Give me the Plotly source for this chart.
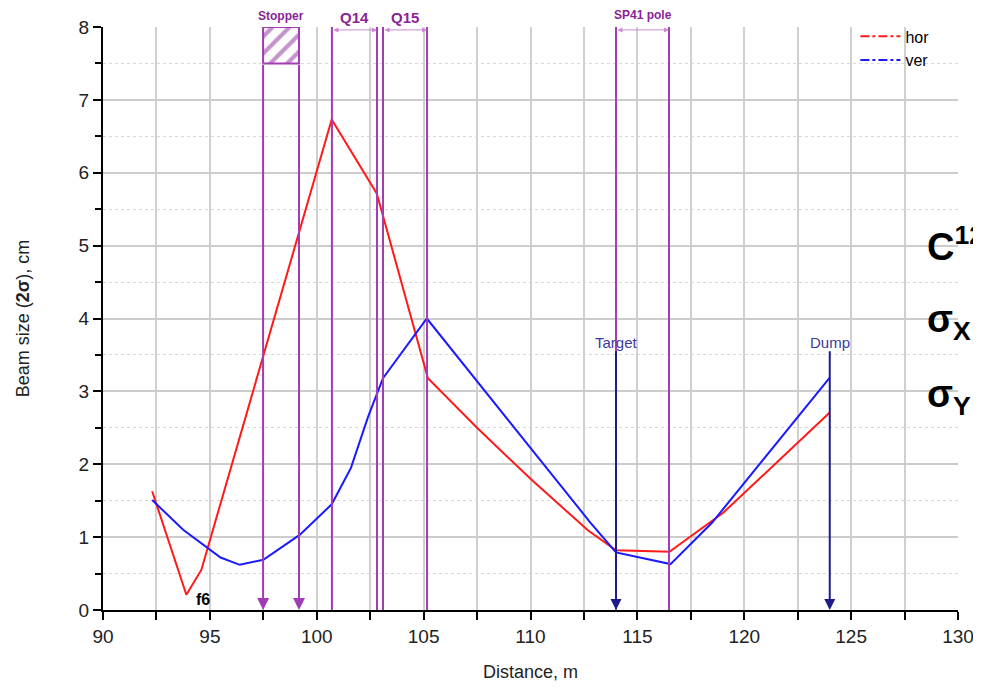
import plotly.graph_objects as go

# ---- data ----
hor_x = [92.3, 93.9, 94.6, 100.7, 102.8, 102.9, 105.2, 107.5, 110.0, 112.7, 114.0, 116.5, 119.0, 124.0]
hor_y = [1.63, 0.21, 0.55, 6.73, 5.72, 5.62, 3.18, 2.50, 1.80, 1.09, 0.82, 0.80, 1.33, 2.71]
ver_x = [92.3, 93.75, 95.5, 96.4, 97.5, 99.2, 100.7, 101.6, 102.4, 103.1, 105.15, 111.4, 112.8, 114.0, 116.55, 118.5, 124.0]
ver_y = [1.51, 1.10, 0.72, 0.62, 0.69, 1.03, 1.45, 1.95, 2.65, 3.18, 4.00, 1.71, 1.20, 0.79, 0.63, 1.20, 3.19]

stopper = [97.49, 99.17]
stopper_box = [7.5, 8.0]
magnets = {"Q14": [100.71, 102.82], "Q15": [103.1, 105.16], "SP41 pole": [114.0, 116.48]}
markers = {"Target": [114.0, 3.57], "Dump": [124.0, 3.57]}
x_ticks = [90, 95, 100, 105, 110, 115, 120, 125, 130]
y_ticks = [0, 1, 2, 3, 4, 5, 6, 7, 8]

PURPLE = "#a23cb4"
PURPLE_LT = "#c98ad2"
PURPLE_TXT = "#8a1f99"
NAVY = "#1c1c8a"
NAVY_TXT = "#3b3b9c"
FONT = "Liberation Sans, Arial, sans-serif"

fig = go.Figure()

# stopper hatched box
fig.add_trace(go.Scatter(
    x=[stopper[0], stopper[1], stopper[1], stopper[0], stopper[0]],
    y=[stopper_box[0], stopper_box[0], stopper_box[1], stopper_box[1], stopper_box[0]],
    mode="lines", fill="toself", fillcolor="rgba(0,0,0,0)",
    fillpattern=dict(shape="/", fgcolor="#8a2a9c", bgcolor="white", size=12, solidity=0.35),
    line=dict(color=PURPLE, width=2), showlegend=False, hoverinfo="skip"))

# beam curves
fig.add_trace(go.Scatter(x=hor_x, y=hor_y, mode="lines", line=dict(color="#ff1a1a", width=2),
                         showlegend=False))
fig.add_trace(go.Scatter(x=ver_x, y=ver_y, mode="lines", line=dict(color="#1a1aff", width=2),
                         showlegend=False))
# legend entries
fig.add_trace(go.Scatter(x=[None], y=[None], mode="lines", name="hor",
                         line=dict(color="#ff1a1a", width=2, dash="dashdot")))
fig.add_trace(go.Scatter(x=[None], y=[None], mode="lines", name="ver",
                         line=dict(color="#1a1aff", width=2, dash="dashdot")))

shapes = []
annotations = []

# stopper lines with arrows
for sx in stopper:
    annotations.append(dict(x=sx, y=0, ax=sx, ay=stopper_box[0], xref="x", yref="y",
                            axref="x", ayref="y", text="", showarrow=True,
                            arrowhead=2, arrowsize=1.2, arrowwidth=2, arrowcolor=PURPLE))
annotations.append(dict(x=sum(stopper) / 2, y=1.0, xref="x", yref="paper", yanchor="middle",
                        yshift=11, text="<b>Stopper</b>", showarrow=False,
                        font=dict(family=FONT, size=12, color=PURPLE_TXT)))

# magnets
for name, (a, b) in magnets.items():
    for xv in (a, b):
        shapes.append(dict(type="line", xref="x", yref="y", x0=xv, x1=xv, y0=0, y1=8,
                           line=dict(color=PURPLE, width=2)))
    annotations.append(dict(x=b, y=7.96, ax=a, ay=7.96, xref="x", yref="y", axref="x", ayref="y",
                            text="", showarrow=True, arrowhead=2, arrowside="end+start",
                            arrowsize=1, arrowwidth=1, arrowcolor=PURPLE_LT))
    annotations.append(dict(x=(a + b) / 2, y=1.0, xref="x", yref="paper", yanchor="middle",
                            yshift=10 if name != "SP41 pole" else 12,
                            text="<b>%s</b>" % name, showarrow=False,
                            font=dict(family=FONT, size=15 if name != "SP41 pole" else 12,
                                      color=PURPLE_TXT)))

# target / dump arrows
for name, (mx, my) in markers.items():
    annotations.append(dict(x=mx, y=0, ax=mx, ay=my, xref="x", yref="y", axref="x", ayref="y",
                            text="", showarrow=True, arrowhead=2, arrowsize=1.1,
                            arrowwidth=2, arrowcolor=NAVY))
    annotations.append(dict(x=mx, y=my, xref="x", yref="y", yanchor="bottom", yshift=-3,
                            text=name, showarrow=False,
                            font=dict(family=FONT, size=15, color=NAVY_TXT)))

# f6 label
annotations.append(dict(x=94.25, y=0.0, xref="x", yref="y", xanchor="left", yanchor="bottom",
                        text="<b>f6</b>", showarrow=False,
                        font=dict(family=FONT, size=16, color="black")))

# right-side text (clipped by page edge, as in the source slide)
for txt, yv in [("C<sup>12</sup>", 5.02), ("σ<sub>X</sub>", 3.95), ("σ<sub>Y</sub>", 2.92)]:
    annotations.append(dict(x=128.45, y=yv, xref="x", yref="y", xanchor="left",
                            text="<b>%s</b>" % txt, showarrow=False,
                            font=dict(family=FONT, size=38, color="black")))

fig.update_layout(
    width=973, height=683,
    margin=dict(l=95, r=23, t=19, b=81, autoexpand=False),
    paper_bgcolor="white", plot_bgcolor="white",
    font=dict(family=FONT, size=19, color="#222"),
    shapes=shapes, annotations=annotations,
    showlegend=True,
    legend=dict(x=0.88, y=1.013, xanchor="left", yanchor="top", bgcolor="rgba(0,0,0,0)",
                font=dict(family=FONT, size=16, color="black"), tracegroupgap=0,
                itemwidth=40),
    xaxis=dict(range=[90, 130], tickvals=x_ticks, ticks="outside", ticklen=8, tickwidth=2,
               tickcolor="black", showline=True, linecolor="black", linewidth=2,
               showgrid=True, gridcolor="#d0d0d0", gridwidth=2, zeroline=False,
               minor=dict(dtick=2.5, tick0=90, ticks="outside", ticklen=8, tickwidth=2,
                          tickcolor="black", showgrid=True, gridcolor="#d0d0d0", gridwidth=2),
               title=dict(text="Distance, m", font=dict(size=18, color="#222"), standoff=20)),
    yaxis=dict(range=[0, 8], tickvals=y_ticks, ticks="outside", ticklen=8, tickwidth=2,
               tickcolor="black", showline=True, linecolor="black", linewidth=2,
               showgrid=True, gridcolor="#cccccc", gridwidth=2, zeroline=False,
               minor=dict(dtick=0.5, ticks="outside", ticklen=6, tickwidth=2, tickcolor="black",
                          showgrid=True, gridcolor="#d8d8d8", griddash="dot", gridwidth=1),
               title=dict(text="Beam size (<b>2σ</b>), cm", font=dict(size=18, color="#222"),
                          standoff=44)),
)

fig.write_html("out.html")
